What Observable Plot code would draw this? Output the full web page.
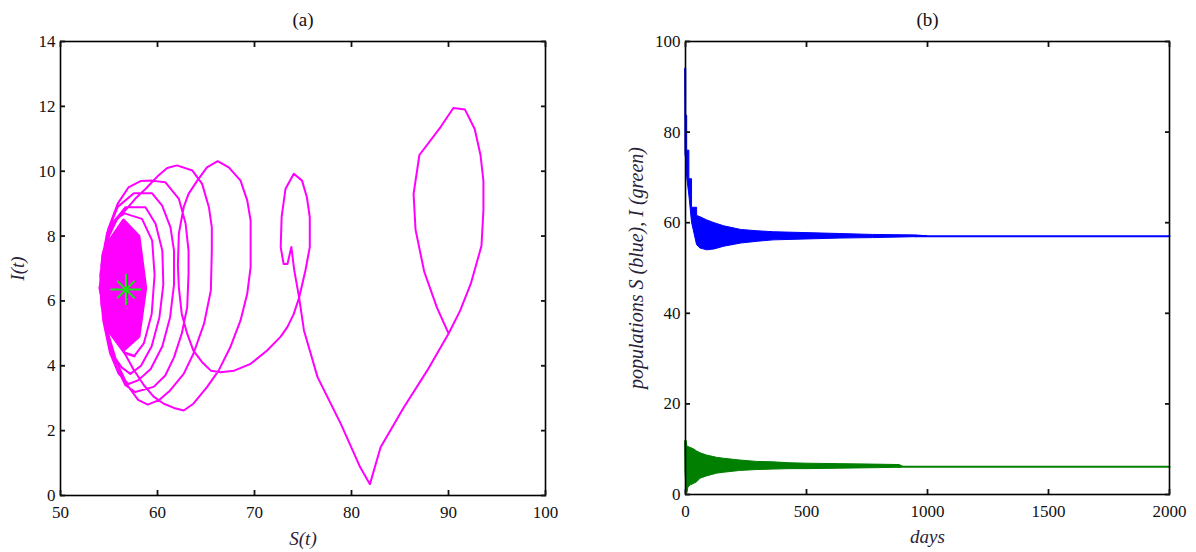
<!DOCTYPE html>
<html>
<head>
<meta charset="utf-8">
<script src="https://cdn.jsdelivr.net/npm/d3@7"></script>
<script src="https://cdn.jsdelivr.net/npm/@observablehq/plot@0.6"></script>
<style>
  html, body { margin: 0; padding: 0; background: #fff; }
  #wrap { display: flex; width: 1196px; height: 552px; }
</style>
</head>
<body>
<div id="wrap"></div>
<script>
// ---------- Panel (a): phase trajectory S(t) vs I(t) ----------
const phaseXTicks = [50, 60, 70, 80, 90, 100];
const phaseYTicks = [0, 2, 4, 6, 8, 10, 12, 14];

// outer trajectory (first large loops), [S, I]
const phaseOuter = [
  [90.0,5.0],[88.8,5.8],[87.5,6.9],[86.6,8.2],[86.4,9.3],[87.0,10.5],[89.2,11.37],[90.5,11.95],[91.7,11.9],
  [92.7,11.3],[93.3,10.5],[93.6,9.7],[93.6,8.8],[93.4,7.7],[92.3,6.53],[91.2,5.7],[90.0,4.99],[87.8,3.85],
  [85.4,2.72],[83.0,1.49],[81.9,0.35],[80.9,0.87],[78.9,2.21],[76.5,3.65],[75.1,5.09],[74.6,6.1],[74.1,6.94],
  [73.8,7.66],[73.4,7.14],[73.0,7.14],[72.7,7.66],[72.8,8.6],[73.2,9.46],[74.05,9.92],[74.9,9.71],[75.4,9.2],
  [75.7,8.58],[75.7,7.66],[75.25,6.94],[74.6,6.1],[74.05,5.6],[73.4,5.2],[72.7,4.9],[71.3,4.47],[69.6,4.06],
  [67.9,3.85],[66.5,3.8],[65.5,3.85],[64.6,4.11],[63.7,4.47],[63.06,4.99],[62.5,5.6],[62.2,6.42],[62.1,7.1],
  [62.2,8.07],[62.7,8.89],[63.2,9.3],[64.1,9.71],[65.1,10.12],[66.2,10.31],[67.35,10.12],[68.56,9.71],[69.25,9.1],
  [69.6,8.48],[69.6,7.04],[69.25,6.22],[68.56,5.4],[67.5,4.57],[66.3,3.85],[65.1,3.34],[63.7,2.83],[62.7,2.62],
  [61.7,2.7],[60.65,2.83],[59.6,3.05],[58.6,3.4],[57.5,3.9],[56.4,4.5],[55.4,5.3],[54.6,6.2],[54.4,7.1],
  [55.0,8.0],[55.8,8.5],[56.7,8.8],[57.7,9.15],[58.76,9.45],[60.1,9.87],[61.0,10.1],[62.0,10.18],[63.6,10.02],
  [64.6,9.61],[65.3,8.89],[65.6,8.27],[65.6,7.55],[65.5,6.32],[64.8,5.3],[63.7,4.37],[62.7,3.75],[61.3,3.24],
  [60.2,2.95],[59.0,2.8],[58.0,2.95],[56.9,3.4],[55.8,4.1],[54.9,5.0],[54.3,6.1],[54.3,7.2],[54.9,8.2],
  [55.9,9.0],[57.0,9.5],[58.3,9.7],[59.4,9.71],[60.8,9.66],[62.2,9.15],[62.9,8.38],[63.2,7.55],[63.2,6.84],
  [63.06,5.8],[62.5,4.99],[61.7,4.26],[60.8,3.7],[59.6,3.35],[57.7,3.19],[56.7,3.4],[55.7,4.0],[54.8,4.9],
  [54.2,6.0],[54.2,7.1],[54.8,8.1],[55.9,8.9],[57.56,9.32],[59.45,9.32],[60.48,8.94],[61.34,8.27],[61.7,7.55],
  [61.7,6.5],[61.3,5.5],[60.5,4.6],[59.3,3.9],[58.0,3.55],[57.0,3.44],[56.0,3.75],[55.1,4.4],[54.4,5.4],
  [54.1,6.4],[54.3,7.4],[55.1,8.3],[56.7,8.89],[58.76,8.89],[59.8,8.38],[60.5,7.55],[60.6,6.5],[60.2,5.5],
  [59.4,4.6],[58.3,4.0],[57.2,3.75],[56.3,3.95],[55.5,4.3],[54.7,5.0],[54.2,5.9],[54.1,6.8],[54.6,7.8],
  [55.6,8.5],[56.6,8.7],[58.4,8.53],[59.45,7.86],[59.7,6.8],[59.4,5.6],[58.6,4.7],[57.6,4.3]
];

// dense core, converging onto the equilibrium, [S, I]
const phaseCore = [
  [57.6,4.3],
  [56.60,4.40],[54.90,5.10],[54.05,6.40],[54.90,7.80],[56.50,8.50],[58.10,8.00],[58.80,6.40],[58.10,4.90],
  [56.61,4.50],[55.00,5.17],[54.19,6.40],[55.00,7.73],[56.52,8.40],[58.04,7.92],[58.70,6.40],[58.04,4.98],
  [56.62,4.60],[55.09,5.23],[54.33,6.40],[55.09,7.66],[56.53,8.29],[57.97,7.84],[58.60,6.40],[57.97,5.05],
  [56.63,4.70],[55.19,5.30],[54.46,6.40],[55.19,7.59],[56.55,8.19],[57.91,7.76],[58.50,6.40],[57.91,5.13],
  [56.64,4.80],[55.28,5.36],[54.60,6.40],[55.28,7.52],[56.56,8.08],[57.84,7.68],[58.40,6.40],[57.84,5.20],
  [56.65,4.90],[55.38,5.43],[54.74,6.40],[55.38,7.45],[56.58,7.98],[57.78,7.60],[58.30,6.40],[57.78,5.28],
  [56.66,5.00],[55.47,5.49],[54.88,6.40],[55.47,7.38],[56.59,7.87],[57.71,7.52],[58.20,6.40],[57.71,5.35],
  [56.67,5.10],[55.57,5.56],[55.01,6.40],[55.57,7.31],[56.61,7.77],[57.65,7.44],[58.10,6.40],[57.65,5.43],
  [56.68,5.20],[55.66,5.62],[55.15,6.40],[55.66,7.24],[56.62,7.66],[57.58,7.36],[58.00,6.40],[57.58,5.50],
  [56.69,5.30],[55.76,5.69],[55.29,6.40],[55.76,7.17],[56.64,7.56],[57.52,7.28],[57.90,6.40],[57.52,5.58],
  [56.70,5.40],[55.85,5.75],[55.43,6.40],[55.85,7.10],[56.65,7.45],[57.45,7.20],[57.80,6.40],[57.45,5.65],
  [56.71,5.50],[55.95,5.82],[55.56,6.40],[55.95,7.03],[56.67,7.35],[57.39,7.12],[57.70,6.40],[57.39,5.73],
  [56.72,5.60],[56.04,5.88],[55.70,6.40],[56.04,6.96],[56.68,7.24],[57.32,7.04],[57.60,6.40],[57.32,5.80],
  [56.73,5.70],[56.14,5.95],[55.84,6.40],[56.14,6.89],[56.70,7.14],[57.26,6.96],[57.50,6.40],[57.26,5.88],
  [56.74,5.80],[56.23,6.01],[55.98,6.40],[56.23,6.82],[56.71,7.03],[57.19,6.88],[57.40,6.40],[57.19,5.95],
  [56.75,5.90],[56.33,6.08],[56.11,6.40],[56.33,6.75],[56.73,6.93],[57.13,6.80],[57.30,6.40],[57.13,6.03],
  [56.76,6.00],[56.42,6.14],[56.25,6.40],[56.42,6.68],[56.74,6.82],[57.06,6.72],[57.20,6.40],[57.06,6.10],
  [56.77,6.10],[56.52,6.21],[56.39,6.40],[56.52,6.61],[56.76,6.72],[57.00,6.64],[57.10,6.40],[57.00,6.18],
  [56.78,6.20],[56.61,6.27],[56.53,6.40],[56.61,6.54],[56.77,6.61],[56.93,6.56],[57.00,6.40],[56.93,6.25],
  [56.79,6.30],[56.71,6.34],[56.66,6.40],[56.71,6.47],[56.79,6.51],[56.87,6.48],[56.90,6.40],[56.87,6.33],
  [56.80,6.40]
];

const equilibrium = [[56.75, 6.35]];

// ---------- Panel (b): time series ----------
const timeXTicks = [0, 500, 1000, 1500, 2000];
const timeYTicks = [0, 20, 40, 60, 80, 100];

const sDays  = [0,  3,  3,    7,    7,    16,   16,   27,   27,   48,   48,   62,   90,   120,  160,  230,  300,  365,  500,  640,  775,  950,  1000];
const sUpper = [94, 94, 83.6, 83.6, 75.9, 75.9, 69.6, 69.6, 63.3, 63.3, 61.5, 61.2, 60.5, 59.9, 59.2, 58.4, 58.1, 57.9, 57.7, 57.5, 57.3, 57.2, 57.0];
const sLower = [75, 74, 73,   70,   70,   66,   66,   60,   60,   55,   55,   54.3, 53.9, 54.1, 54.7, 55.4, 55.8, 56.1, 56.3, 56.5, 56.6, 56.8, 57.0];
const sSteadyDays = [950, 2000];
const sSteady = [57.0, 57.0];

const iDays  = [0,    2,    5,    8,    12,   20,   34,   48,  62,  89,  130, 158, 226, 295, 363, 430, 500, 637, 774, 885, 900];
const iUpper = [11.8, 11.8, 11.8, 10.5, 10.5, 10.3, 10.0, 9.5, 9.1, 8.6, 8.1, 7.9, 7.5, 7.2, 7.1, 6.9, 6.8, 6.7, 6.6, 6.5, 6.1];
const iLower = [5.0,  3.0,  0.5,  0.3,  1.5,  2.0,  2.3,  2.7, 3.5, 4.0, 4.6, 4.8, 5.2, 5.4, 5.5, 5.6, 5.6, 5.7, 5.8, 5.9, 6.1];
const iSteadyDays = [880, 2000];
const iSteady = [6.1, 6.1];

// ---------- shared styling ----------
const FONT = "'Liberation Serif', 'Times New Roman', serif";
const baseStyle = { fontFamily: FONT, fontSize: "17px", color: "#111", background: "#fff", overflow: "visible" };
const plainNum = d => String(d);

function boxAxes(xt, yt) {
  return [
    Plot.frame({ stroke: "#000", strokeWidth: 1.6 }),
    Plot.axisX({ ticks: xt, anchor: "bottom", tickSize: 0, tickPadding: 10, label: null, fontSize: 17, tickFormat: plainNum }),
    Plot.axisY({ ticks: yt, anchor: "left", tickSize: 0, tickPadding: 5, label: null, fontSize: 17, tickFormat: plainNum }),
    Plot.axisX({ ticks: xt, anchor: "bottom", tickSize: -5, tickFormat: () => "", label: null, strokeWidth: 1.8 }),
    Plot.axisX({ ticks: xt, anchor: "top", tickSize: -5, tickFormat: () => "", label: null, strokeWidth: 1.8 }),
    Plot.axisY({ ticks: yt, anchor: "left", tickSize: -5, tickFormat: () => "", label: null, strokeWidth: 1.8 }),
    Plot.axisY({ ticks: yt, anchor: "right", tickSize: -5, tickFormat: () => "", label: null, strokeWidth: 1.8 })
  ];
}

const labelOpts = { text: d => d, fontStyle: "italic", fill: "#2a2238", textAnchor: "middle", lineAnchor: "middle" };

const plotA = Plot.plot({
  width: 598, height: 552,
  marginLeft: 60, marginRight: 53, marginTop: 41, marginBottom: 57,
  style: baseStyle,
  x: { domain: [50, 100] },
  y: { domain: [0, 14] },
  marks: [
    Plot.line(phaseOuter, { x: d => d[0], y: d => d[1], stroke: "#ff00ff", strokeWidth: 2, strokeLinejoin: "round" }),
    Plot.line(phaseCore, { x: d => d[0], y: d => d[1], stroke: "#ff00ff", strokeWidth: 2.7, strokeLinejoin: "round" }),
    Plot.dot(equilibrium, { x: d => d[0], y: d => d[1], symbol: "plus", r: 10, stroke: "#10e810", strokeWidth: 2 }),
    Plot.dot(equilibrium, { x: d => d[0], y: d => d[1], symbol: "times", r: 8, stroke: "#10e810", strokeWidth: 2 }),
    ...boxAxes(phaseXTicks, phaseYTicks),
    Plot.text(["(a)"], { frameAnchor: "top", dy: -22, text: d => d, fontSize: 19, fill: "#111", textAnchor: "middle", lineAnchor: "middle" }),
    Plot.text(["S(t)"], { ...labelOpts, frameAnchor: "bottom", dy: 43, fontSize: 19 }),
    Plot.text(["I(t)"], { ...labelOpts, frameAnchor: "left", dx: -43, rotate: -90, fontSize: 19 })
  ]
});

const sTable = sDays.map((d, k) => ({ d, lo: sLower[k], hi: sUpper[k] }));
const iTable = iDays.map((d, k) => ({ d, lo: iLower[k], hi: iUpper[k] }));
const sSteadyTable = sSteadyDays.map((d, k) => ({ d, v: sSteady[k] }));
const iSteadyTable = iSteadyDays.map((d, k) => ({ d, v: iSteady[k] }));

const plotB = Plot.plot({
  width: 598, height: 552,
  marginLeft: 87, marginRight: 27, marginTop: 41, marginBottom: 58,
  style: baseStyle,
  x: { domain: [0, 2000] },
  y: { domain: [0, 100] },
  marks: [
    Plot.areaY(sTable, { x: "d", y1: "lo", y2: "hi", fill: "#0000ff", stroke: "#0000ff", strokeWidth: 1 }),
    Plot.line(sSteadyTable, { x: "d", y: "v", stroke: "#0000ff", strokeWidth: 2 }),
    Plot.areaY(iTable, { x: "d", y1: "lo", y2: "hi", fill: "#007f00", stroke: "#007f00", strokeWidth: 1 }),
    Plot.line(iSteadyTable, { x: "d", y: "v", stroke: "#007f00", strokeWidth: 2 }),
    ...boxAxes(timeXTicks, timeYTicks),
    Plot.text(["(b)"], { frameAnchor: "top", dy: -22, text: d => d, fontSize: 19, fill: "#111", textAnchor: "middle", lineAnchor: "middle" }),
    Plot.text(["days"], { ...labelOpts, frameAnchor: "bottom", dy: 42, fontSize: 19 }),
    Plot.text(["populations S (blue), I (green)"], { ...labelOpts, frameAnchor: "left", dx: -49, rotate: -90, fontSize: 20 })
  ]
});

const wrap = document.getElementById("wrap");
wrap.appendChild(plotA);
wrap.appendChild(plotB);
</script>
</body>
</html>
